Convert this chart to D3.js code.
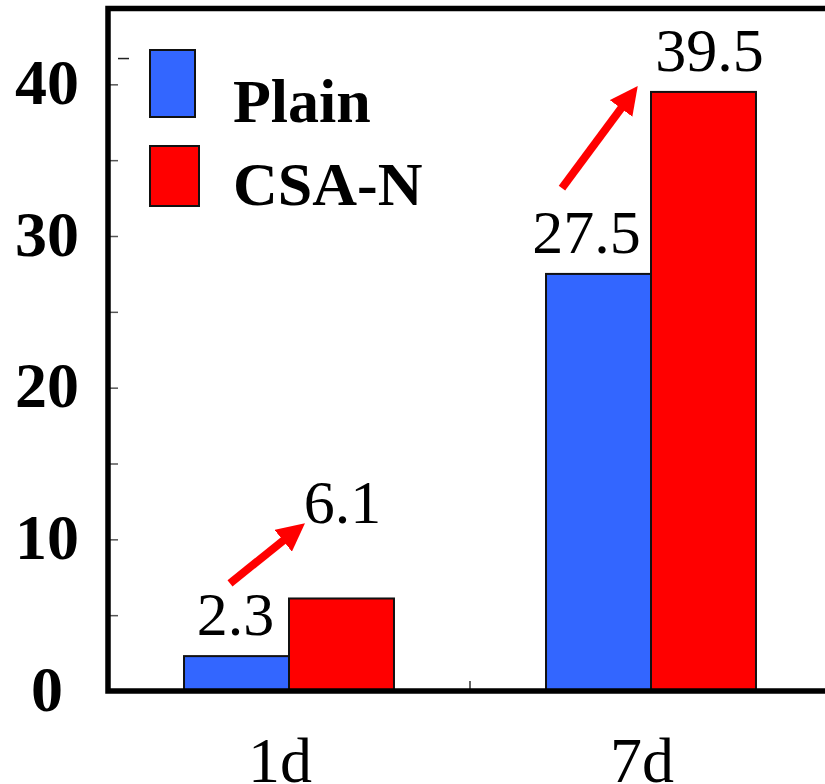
<!DOCTYPE html>
<html lang="en">
<head>
<meta charset="UTF-8">
<title>Plain vs CSA-N</title>
<script src="https://d3js.org/d3.v7.min.js"></script>
<style>
    body { margin: 0; background: #fff; }
    svg { display: block; font-family: "Liberation Serif", "Times New Roman", serif; }
</style>
</head>
<body>
<div id="chart"></div>
<script>
// datos
const categories = ["1d", "7d"];
const series = ["Plain", "CSA-N"];
const plainValues = [2.3, 27.5];
const csaValues = [6.1, 39.5];
const yTicks = [0, 5, 10, 15, 20, 25, 30, 35, 40];
const yTickLabels = ["0", "", "10", "", "20", "", "30", "", "40"];
const colors = ["#3366ff", "#ff0000"];

const width = 825, height = 784;
const plotLeft = 108, plotRight = 832, plotTop = 8.5, plotBottom = 691;

const svg = d3.select("#chart").append("svg")
    .attr("width", width)
    .attr("height", height);

const x0 = d3.scaleBand().domain(categories).range([plotLeft, plotRight]).padding(0);
const bw = x0.bandwidth();
const x1 = d3.scaleBand().domain(series).range([bw * 0.21, bw * 0.79]).padding(0);
const y = d3.scaleLinear().domain([0, 45]).range([plotBottom, plotTop]);

const values = [plainValues, csaValues];

// barras
categories.forEach((c, i) => {
    const g = svg.append("g").attr("transform", `translate(${x0(c)},0)`);
    series.forEach((s, j) => {
        g.append("rect")
            .attr("x", x1(s))
            .attr("y", y(values[j][i]))
            .attr("width", x1.bandwidth())
            .attr("height", y(0) - y(values[j][i]))
            .attr("fill", colors[j])
            .attr("stroke", "#111")
            .attr("stroke-width", 2);
    });
});

// etiquetas de valores (ajustes a mano)
const labelShift = [[[-1, -21], [1, -75]], [[-12, -21], [6, -21]]];
categories.forEach((c, i) => {
    series.forEach((s, j) => {
        const v = values[j][i];
        svg.append("text")
            .attr("x", x0(c) + x1(s) + x1.bandwidth() / 2 + labelShift[i][j][0])
            .attr("y", y(v) + labelShift[i][j][1])
            .attr("text-anchor", "middle")
            .attr("font-size", 62)
            .attr("fill", "#000")
            .text(v);
    });
});

// flechas
svg.append("defs").append("marker")
    .attr("id", "head")
    .attr("viewBox", "0 0 10 10")
    .attr("refX", 6)
    .attr("refY", 5)
    .attr("markerUnits", "userSpaceOnUse")
    .attr("markerWidth", 28)
    .attr("markerHeight", 28)
    .attr("orient", "auto")
    .append("path")
    .attr("d", "M0,0 L10,5 L0,10 Z")
    .attr("fill", "#ff0000");

const arrows = [
    { cat: "1d", fx: 0.337, fy: 7.1, tx: 0.52, ty: 10.6 },
    { cat: "7d", fx: 0.254, fy: 33.15, tx: 0.445, ty: 39.3 }
];
arrows.forEach(a => {
    svg.append("line")
        .attr("x1", x0(a.cat) + bw * a.fx)
        .attr("y1", y(a.fy))
        .attr("x2", x0(a.cat) + bw * a.tx)
        .attr("y2", y(a.ty))
        .attr("stroke", "#ff0000")
        .attr("stroke-width", 8)
        .attr("marker-end", "url(#head)");
});

// eje y
const yAxis = d3.axisLeft(y)
    .tickValues(yTicks)
    .tickSize(-10)
    .tickFormat((d, i) => yTickLabels[i]);

const gy = svg.append("g").attr("transform", `translate(${plotLeft},0)`).call(yAxis);
gy.select(".domain").remove();
gy.selectAll(".tick line").attr("stroke", "#555").attr("stroke-width", 1.5).attr("x1", 2);
gy.selectAll(".tick text")
    .attr("x", -61)
    .attr("dy", "0.3em")
    .attr("text-anchor", "middle")
    .attr("font-size", 64)
    .attr("font-weight", "bold")
    .attr("font-family", "'Liberation Serif', 'Times New Roman', serif")
    .attr("fill", "#000");

svg.append("line")
    .attr("x1", plotLeft + 10).attr("x2", plotLeft + 21)
    .attr("y1", y(41.7)).attr("y2", y(41.7))
    .attr("stroke", "#222").attr("stroke-width", 1.5);

// eje x
svg.append("line")
    .attr("x1", x0("7d")).attr("x2", x0("7d"))
    .attr("y1", plotBottom).attr("y2", plotBottom - 10)
    .attr("stroke", "#333").attr("stroke-width", 1.5);

svg.selectAll(".xlab")
    .data(categories)
    .enter()
    .append("text")
    .attr("class", "xlab")
    .attr("x", d => x0(d) + bw / 2 - 9)
    .attr("y", 782)
    .attr("text-anchor", "middle")
    .attr("font-size", 64)
    .attr("fill", "#000")
    .text(d => d);

// marco
svg.append("path")
    .attr("d", `M${plotRight},${plotTop} H${plotLeft} V${plotBottom} H${plotRight}`)
    .attr("fill", "none")
    .attr("stroke", "#000")
    .attr("stroke-width", 5.5);

// leyenda
const legendBoxes = [[150, 50, 45, 67], [150, 146, 49, 60]];
const legendBase = [122, 205];
series.forEach((s, j) => {
    svg.append("rect")
        .attr("x", legendBoxes[j][0])
        .attr("y", legendBoxes[j][1])
        .attr("width", legendBoxes[j][2])
        .attr("height", legendBoxes[j][3])
        .attr("fill", colors[j])
        .attr("stroke", "#111")
        .attr("stroke-width", 2);
    svg.append("text")
        .attr("x", 233)
        .attr("y", legendBase[j])
        .attr("font-size", 62)
        .attr("font-weight", "bold")
        .attr("fill", "#000")
        .text(s);
});
</script>
</body>
</html>
